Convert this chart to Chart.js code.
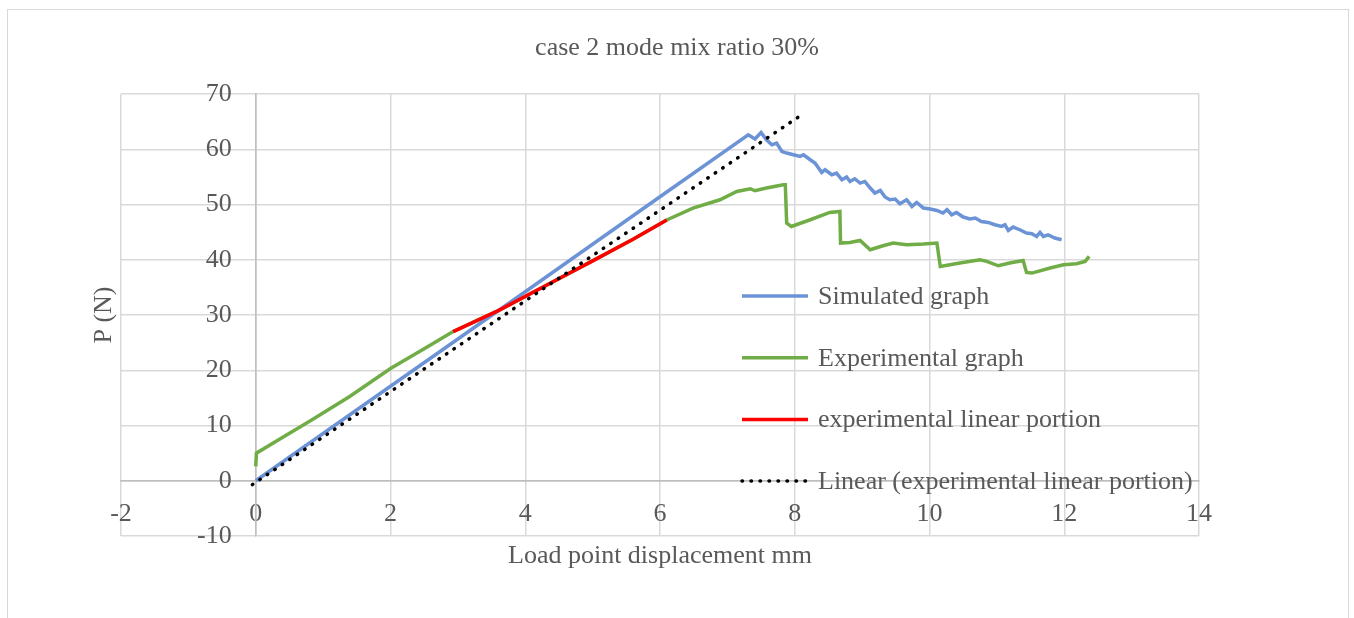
<!DOCTYPE html>
<html>
<head>
<meta charset="utf-8">
<script src="https://cdn.jsdelivr.net/npm/chart.js@4.4.0/dist/chart.umd.min.js"></script>
<style>
html, body { margin: 0; padding: 0; background: #fff; overflow: hidden; }
#frame { position: absolute; left: 7px; top: 9px; width: 1340px; height: 700px; border: 1px solid #d9d9d9; }
#wrap { position: absolute; left: 0; top: 0; width: 1354px; height: 618px; }
</style>
</head>
<body>
<div id="frame"></div>
<div id="wrap"><canvas id="chart" width="1354" height="618"></canvas></div>
<script>
// values
var simX = [0, 2, 4, 6, 7.31, 7.41, 7.50, 7.58, 7.66, 7.73, 7.81, 7.88, 7.98, 8.08, 8.13, 8.23, 8.30, 8.40, 8.45, 8.55, 8.62, 8.70, 8.77, 8.82, 8.89, 8.97, 9.04, 9.12, 9.19, 9.27, 9.34, 9.41, 9.49, 9.56, 9.66, 9.74, 9.81, 9.91, 10.01, 10.11, 10.20, 10.26, 10.33, 10.40, 10.50, 10.60, 10.68, 10.77, 10.87, 10.97, 11.07, 11.12, 11.17, 11.24, 11.34, 11.44, 11.52, 11.59, 11.64, 11.69, 11.76, 11.86, 11.96];
var simY = [0, 17.1, 34.2, 51.4, 62.62, 61.85, 63.04, 61.72, 60.81, 61.12, 59.60, 59.31, 59.00, 58.70, 59.00, 58.10, 57.50, 55.80, 56.29, 55.38, 55.69, 54.48, 54.97, 54.17, 54.66, 53.88, 54.17, 52.98, 52.07, 52.54, 51.35, 50.86, 50.99, 50.14, 50.86, 49.65, 50.37, 49.36, 49.18, 48.92, 48.45, 49.05, 48.14, 48.56, 47.73, 47.37, 47.55, 46.93, 46.75, 46.33, 46.03, 46.33, 45.30, 45.92, 45.43, 44.83, 44.71, 44.22, 44.94, 44.22, 44.52, 43.93, 43.62];

var expX = [0, 0.01, 0.42, 0.83, 1.4, 2.0, 2.5, 2.93, 3.6, 4.3, 5.0, 5.6, 6.1, 6.49, 6.89, 7.14, 7.34, 7.41, 7.58, 7.83, 7.86, 7.88, 7.95, 8.23, 8.52, 8.67, 8.68, 8.82, 8.97, 9.12, 9.31, 9.46, 9.66, 9.91, 10.11, 10.16, 10.45, 10.75, 10.85, 11.02, 11.19, 11.39, 11.44, 11.52, 11.79, 11.99, 12.18, 12.31, 12.37];
var expY = [2.6, 5.0, 8.0, 11.0, 15.3, 20.3, 23.9, 27.0, 30.8, 35.3, 39.8, 43.7, 47.2, 49.35, 50.86, 52.36, 52.85, 52.49, 52.98, 53.57, 53.57, 46.64, 46.03, 47.24, 48.56, 48.74, 43.02, 43.13, 43.49, 41.81, 42.53, 43.02, 42.71, 42.84, 43.02, 38.79, 39.40, 40.00, 39.70, 38.91, 39.40, 39.87, 37.70, 37.59, 38.50, 39.10, 39.28, 39.70, 40.60];

var fitX = [2.93, 3.6, 4.3, 5.0, 5.6, 6.1];
var fitY = [27.0, 30.8, 35.3, 39.8, 43.7, 47.2];

var trendX = [-0.05, 8.05];
var trendY = [-0.7, 65.8];

var seriesNames = ['Simulated graph', 'Experimental graph', 'experimental linear portion', 'Linear (experimental linear portion)'];

var xTicks = { min: -2, max: 14, step: 2 };
var yTicks = { min: -10, max: 70, step: 10 };

function pts(xs, ys) {
  return xs.map(function (x, i) { return { x: x, y: ys[i] }; });
}

var serif = "'Liberation Serif', 'Times New Roman', serif";
var textGrey = '#595959';
var gridGrey = '#d9d9d9';
var axisGrey = '#bfbfbf';
var font26 = { family: serif, size: 26, weight: 'normal' };

function gridColor(c) {
  return c.tick && c.tick.value === 0 ? axisGrey : gridGrey;
}

// legend sits inside the plot, like Excel put it
var insideLegend = {
  id: 'insideLegend',
  afterDatasetsDraw: function (chart) {
    var ctx = chart.ctx, a = chart.chartArea;
    var x0 = a.left + 621, x1 = x0 + 66;
    ctx.save();
    ctx.font = '26px ' + serif;
    ctx.textBaseline = 'middle';
    ctx.fillStyle = textGrey;
    chart.data.datasets.forEach(function (ds, i) {
      var y = a.top + 202 + i * 61.7;
      ctx.beginPath();
      ctx.strokeStyle = ds.borderColor;
      ctx.lineWidth = ds.borderWidth;
      ctx.lineCap = ds.borderCapStyle || 'butt';
      ctx.setLineDash(ds.borderDash || []);
      ctx.moveTo(x0, y);
      ctx.lineTo(x1, y);
      ctx.stroke();
      ctx.setLineDash([]);
      ctx.fillText(ds.label, x1 + 10, y + 1);
    });
    ctx.restore();
  }
};

var ctx = document.getElementById('chart');

new Chart(ctx, {
  type: 'scatter',
  data: {
    datasets: [
      { label: seriesNames[0], data: pts(simX, simY), showLine: true, borderColor: '#6b93d6', borderWidth: 3.5, pointRadius: 0, order: 2 },
      { label: seriesNames[1], data: pts(expX, expY), showLine: true, borderColor: '#70ad47', borderWidth: 3.5, pointRadius: 0, order: 3 },
      { label: seriesNames[2], data: pts(fitX, fitY), showLine: true, borderColor: '#ff0000', borderWidth: 3.5, pointRadius: 0, order: 1 },
      { label: seriesNames[3], data: pts(trendX, trendY), showLine: true, borderColor: '#000000', borderWidth: 3.5, borderDash: [0.5, 8.5], borderCapStyle: 'round', pointRadius: 0, order: 0 }
    ]
  },
  options: {
    responsive: false,
    animation: false,
    layout: { padding: 0 },
    plugins: {
      legend: { display: false },
      tooltip: { enabled: false },
      title: {
        display: true,
        text: 'case 2 mode mix ratio 30%',
        color: textGrey,
        font: font26,
        padding: { top: 33, bottom: 29.8 }
      }
    },
    scales: {
      x: {
        type: 'linear',
        position: { y: 0 },
        min: xTicks.min, max: xTicks.max,
        ticks: { stepSize: xTicks.step, padding: 18, color: textGrey, font: font26, autoSkip: false, maxRotation: 0 },
        grid: { color: gridColor, lineWidth: 1.5, drawTicks: false },
        border: { color: axisGrey, width: 1.5 }
      },
      y: {
        type: 'linear',
        position: { x: 0 },
        min: yTicks.min, max: yTicks.max,
        ticks: { stepSize: yTicks.step, display: false },
        grid: { color: gridColor, lineWidth: 1.5, drawTicks: false },
        border: { color: axisGrey, width: 1.5 }
      },
      // tick labels of the value axis, a little left of the x = 0 line
      yl: {
        type: 'linear', axis: 'y',
        position: { x: -0.356 },
        min: yTicks.min, max: yTicks.max,
        ticks: { stepSize: yTicks.step, color: textGrey, font: font26 },
        grid: { display: false, drawTicks: false },
        border: { display: false }
      },
      xt: {
        type: 'linear', axis: 'x', position: 'bottom',
        min: xTicks.min, max: xTicks.max,
        ticks: { display: false },
        grid: { display: false, drawTicks: false },
        border: { display: false },
        title: { display: true, text: 'Load point displacement mm', color: textGrey, font: font26, padding: { top: 4.4, bottom: 46.4 } }
      },
      yt: {
        type: 'linear', axis: 'y', position: 'left',
        min: yTicks.min, max: yTicks.max,
        ticks: { display: false },
        grid: { display: false, drawTicks: false },
        border: { display: false },
        title: { display: true, text: 'P (N)', color: textGrey, font: font26, padding: { top: 88.4, bottom: 1.4 } }
      },
      yr: {
        type: 'linear', axis: 'y', position: 'right',
        min: yTicks.min, max: yTicks.max,
        ticks: { display: false },
        grid: { display: false, drawTicks: false },
        border: { display: false },
        afterFit: function (s) { s.width = 155; }
      }
    }
  },
  plugins: [insideLegend]
});
</script>
</body>
</html>
